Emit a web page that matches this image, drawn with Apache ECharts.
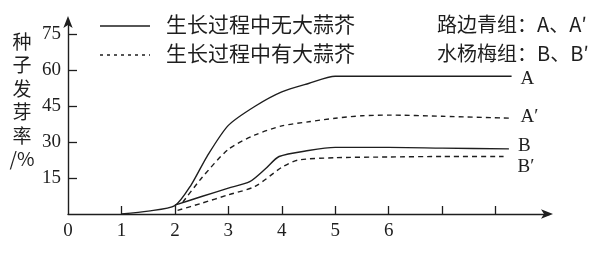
<!DOCTYPE html>
<html><head><meta charset="utf-8">
<script src="https://cdn.jsdelivr.net/npm/echarts@6/dist/echarts.min.js"></script>
<style>html,body{margin:0;padding:0;background:#fff}#c{width:616px;height:258px}</style>
</head><body><div id="c"></div>
<script>
// Data
const xTickValues = [1, 2, 3, 4, 5, 6, 7, 8];
const xLabelValues = [0, 1, 2, 3, 4, 5, 6];
const yTickValues = [15, 30, 45, 60, 75];

const seriesA_x  = [1, 1.5, 2, 2.3, 2.6, 3, 3.5, 4, 4.5, 5, 5.5, 6, 7, 8.3];
const seriesA_y  = [0, 1.2, 3.5, 12, 24, 37, 45, 51, 54.5, 57.5, 57.5, 57.5, 57.5, 57.5];

const seriesA2_x = [2.15, 2.5, 3, 3.5, 4, 4.5, 5, 5.5, 6, 7, 8.3];
const seriesA2_y = [5, 15, 27, 33, 36.8, 38.5, 40, 41, 41.3, 40.8, 40];

const seriesB_x  = [2, 2.5, 3, 3.4, 3.7, 3.95, 4.5, 5, 6, 7, 8.25];
const seriesB_y  = [3.7, 7.3, 10.8, 13.5, 19, 24, 26.5, 27.8, 27.8, 27.5, 27.2];

const seriesB2_x = [2.05, 2.5, 3, 3.5, 4, 4.3, 5, 6, 7, 8.15];
const seriesB2_y = [1.5, 4.5, 8, 11.5, 19.5, 22.5, 23.5, 23.8, 24, 24];

const legendTexts = ['生长过程中无大蒜芥', '生长过程中有大蒜芥'];
const groupTexts = ['路边青组：A、A′', '水杨梅组：B、B′'];
const yAxisTitle = ['种', '子', '发', '芽', '率', '/%'];

const zip = (xs, ys) => xs.map((x, i) => [x, ys[i]]);
const ink = '#1e1e1e';
const serif = '"Liberation Serif", "DejaVu Serif", serif';
const cjk = '"Noto Sans CJK SC", sans-serif';

function lineSeries(name, xs, ys, dashed, labelOffset) {
  return {
    name, type: 'line', data: zip(xs, ys), smooth: 0.25, symbol: 'none',
    lineStyle: { color: ink, width: 1.4, type: dashed ? [5, 4] : 'solid' },
    endLabel: { show: true, formatter: name, color: ink, fontFamily: serif, fontSize: 19, distance: 7, offset: labelOffset },
    z: 3
  };
}

const chart = echarts.init(document.getElementById('c'), null, { renderer: 'canvas' });
chart.setOption({
  animation: false,
  backgroundColor: '#fff',
  grid: { left: 68, right: 67, top: 20, bottom: 44, containLabel: false },
  xAxis: {
    type: 'value', min: 0, max: 9,
    axisLine: { show: true, lineStyle: { color: ink, width: 1.4 }, symbol: ['none', 'arrow'], symbolSize: [7, 12], symbolOffset: [0, 4] },
    axisTick: { show: true, inside: true, length: 8, lineStyle: { color: ink, width: 1.3 }, customValues: xTickValues },
    axisLabel: { color: ink, fontFamily: serif, fontSize: 19, margin: 8, customValues: xLabelValues },
    splitLine: { show: false }
  },
  yAxis: {
    type: 'value', min: 0, max: 81,
    axisLine: { show: true, lineStyle: { color: ink, width: 1.4 }, symbol: ['none', 'arrow'], symbolSize: [7, 12], symbolOffset: [0, 4] },
    axisTick: { show: true, inside: true, length: 9, lineStyle: { color: ink, width: 1.3 }, customValues: yTickValues },
    axisLabel: { color: ink, fontFamily: serif, fontSize: 19, margin: 7, customValues: yTickValues },
    splitLine: { show: false }
  },
  series: [
    lineSeries('A', seriesA_x, seriesA_y, false, [2, 3]),
    lineSeries('A′', seriesA2_x, seriesA2_y, true, [2, -1]),
    lineSeries('B', seriesB_x, seriesB_y, false, [2, -3]),
    lineSeries('B′', seriesB2_x, seriesB2_y, true, [7, 10])
  ],
  graphic: [
    { type: 'line', shape: { x1: 100, y1: 26, x2: 150, y2: 26 }, style: { stroke: ink, lineWidth: 1.4 } },
    { type: 'line', shape: { x1: 100, y1: 55, x2: 150, y2: 55 }, style: { stroke: ink, lineWidth: 1.4, lineDash: [3, 4] } },
    { type: 'text', x: 166, y: 24, style: { text: legendTexts[0], font: '21px ' + cjk, fill: ink, textVerticalAlign: 'middle' } },
    { type: 'text', x: 166, y: 53, style: { text: legendTexts[1], font: '21px ' + cjk, fill: ink, textVerticalAlign: 'middle' } },
    { type: 'text', x: 437, y: 24, style: { text: groupTexts[0], font: '20px ' + cjk, fill: ink, textVerticalAlign: 'middle' } },
    { type: 'text', x: 437, y: 53, style: { text: groupTexts[1], font: '20px ' + cjk, fill: ink, textVerticalAlign: 'middle' } },
    { type: 'text', x: 22, y: 30, style: { text: yAxisTitle.join('\n'), font: '19px ' + cjk, lineHeight: 23.5, fill: ink, textAlign: 'center' } }
  ]
});
</script>
</body></html>
